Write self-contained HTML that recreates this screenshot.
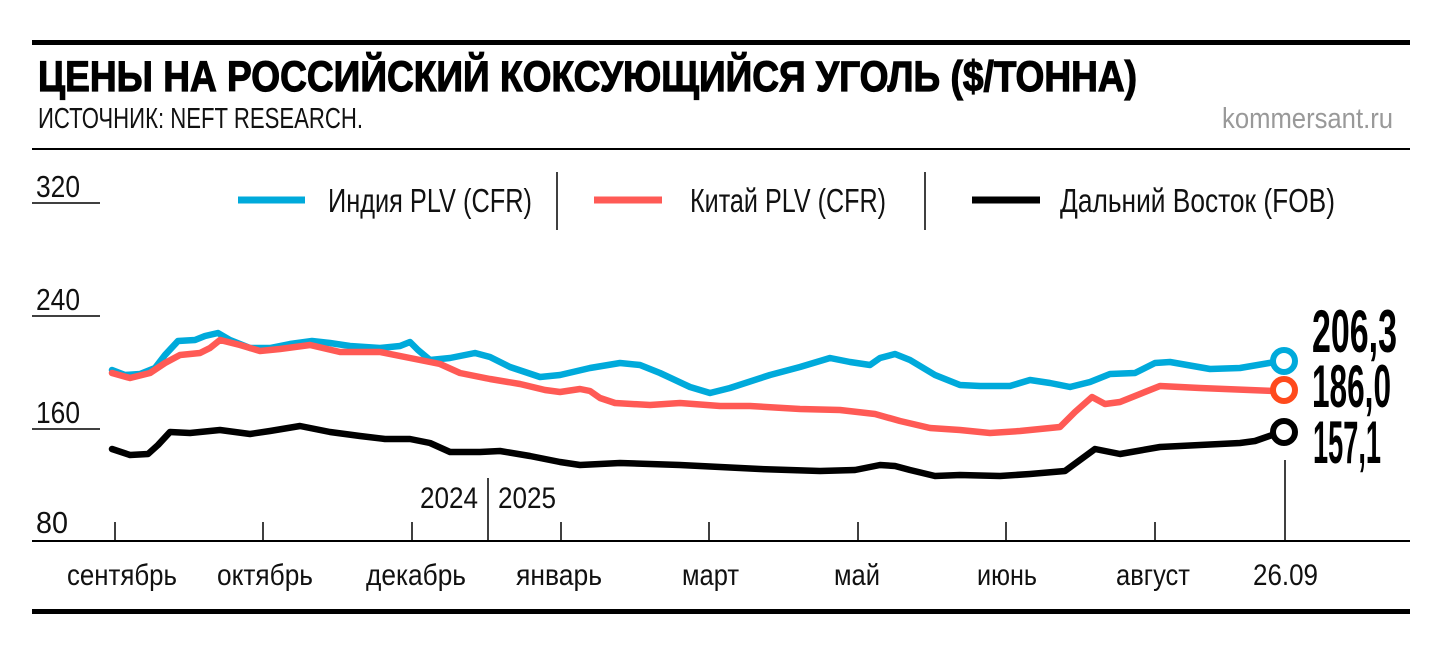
<!DOCTYPE html>
<html><head><meta charset="utf-8"><style>html,body{margin:0;padding:0;background:#fff}svg{display:block}</style></head><body>
<svg width="1440" height="648" viewBox="0 0 1440 648" xmlns="http://www.w3.org/2000/svg" font-family="Liberation Sans, sans-serif">
<rect width="1440" height="648" fill="#fff"/>
<rect x="32" y="40" width="1378" height="5" fill="#000"/>
<text x="38" y="91" font-size="43" font-weight="bold" stroke="#000" stroke-width="1.2" textLength="1099" lengthAdjust="spacingAndGlyphs">ЦЕНЫ НА РОССИЙСКИЙ КОКСУЮЩИЙСЯ УГОЛЬ ($/ТОННА)</text>
<text x="38" y="128" font-size="29" textLength="325" lengthAdjust="spacingAndGlyphs" fill="#111">ИСТОЧНИК: NEFT RESEARCH.</text>
<text x="1222" y="128" font-size="29" textLength="171" lengthAdjust="spacingAndGlyphs" fill="#999">kommersant.ru</text>
<rect x="32" y="148" width="1378" height="2" fill="#000"/>
<g font-size="31" fill="#111">
<text x="36" y="197" textLength="44" lengthAdjust="spacingAndGlyphs">320</text>
<text x="36" y="310" textLength="44" lengthAdjust="spacingAndGlyphs">240</text>
<text x="36" y="423" textLength="44" lengthAdjust="spacingAndGlyphs">160</text>
<text x="36" y="533" textLength="32" lengthAdjust="spacingAndGlyphs">80</text>
</g>
<g stroke="#000" stroke-width="1.5">
<line x1="32" y1="203" x2="100" y2="203"/><line x1="32" y1="316" x2="100" y2="316"/><line x1="32" y1="429" x2="100" y2="429"/>
<line x1="557" y1="172" x2="557" y2="230"/><line x1="925" y1="172" x2="925" y2="230"/>
<line x1="488" y1="478" x2="488" y2="541"/>
<line x1="1285" y1="460" x2="1285" y2="541"/>
<line x1="115" y1="522" x2="115" y2="541"/><line x1="263" y1="522" x2="263" y2="541"/><line x1="412" y1="522" x2="412" y2="541"/><line x1="561" y1="522" x2="561" y2="541"/><line x1="709" y1="522" x2="709" y2="541"/><line x1="858" y1="522" x2="858" y2="541"/><line x1="1006" y1="522" x2="1006" y2="541"/><line x1="1155" y1="522" x2="1155" y2="541"/>
</g>
<rect x="32" y="540" width="1378" height="2" fill="#000"/>
<rect x="32" y="609" width="1378" height="5" fill="#000"/>
<g stroke-width="7" stroke-linecap="butt">
<line x1="238" y1="200" x2="305" y2="200" stroke="#00aadb"/>
<line x1="594" y1="200" x2="662" y2="200" stroke="#ff5a55"/>
<line x1="972" y1="200" x2="1040" y2="200" stroke="#000"/>
</g>
<g font-size="33" fill="#111">
<text x="328" y="212" textLength="204" lengthAdjust="spacingAndGlyphs">Индия PLV (CFR)</text>
<text x="690" y="212" textLength="196" lengthAdjust="spacingAndGlyphs">Китай PLV (CFR)</text>
<text x="1060" y="212" textLength="275" lengthAdjust="spacingAndGlyphs">Дальний Восток (FOB)</text>
</g>
<g font-size="30" fill="#111">
<text x="420" y="508" textLength="58" lengthAdjust="spacingAndGlyphs">2024</text>
<text x="498" y="508" textLength="58" lengthAdjust="spacingAndGlyphs">2025</text>
<text x="67" y="585" textLength="110" lengthAdjust="spacingAndGlyphs">сентябрь</text>
<text x="217" y="585" textLength="96" lengthAdjust="spacingAndGlyphs">октябрь</text>
<text x="366" y="585" textLength="100" lengthAdjust="spacingAndGlyphs">декабрь</text>
<text x="516" y="585" textLength="86" lengthAdjust="spacingAndGlyphs">январь</text>
<text x="682" y="585" textLength="57" lengthAdjust="spacingAndGlyphs">март</text>
<text x="834" y="585" textLength="46" lengthAdjust="spacingAndGlyphs">май</text>
<text x="977" y="585" textLength="60" lengthAdjust="spacingAndGlyphs">июнь</text>
<text x="1116" y="585" textLength="74" lengthAdjust="spacingAndGlyphs">август</text>
<text x="1253" y="585" textLength="65" lengthAdjust="spacingAndGlyphs">26.09</text>
</g>
<g fill="none" stroke-width="6.5" stroke-linejoin="round" stroke-linecap="round">
<polyline stroke="#00aadb" points="112,370 125,375 140,374 155,368 165,355 178,341 195,340 205,336 218,333 230,340 250,348 270,348 290,344 312,341 330,343 350,346 380,348 400,346 410,342 418,350 430,360 450,358 475,353 490,357 510,367 540,377 560,375 590,368 620,363 640,365 660,373 690,387 710,393 730,388 770,375 800,367 830,358 850,362 870,365 880,358 895,354 910,360 935,375 960,385 980,386 1000,386 1010,386 1030,380 1050,383 1070,387 1090,382 1110,374 1135,373 1155,363 1170,362 1210,369 1240,368 1275,362"/>
<polyline stroke="#ff5a55" points="112,373 130,378 150,373 165,363 180,355 200,353 210,348 220,340 240,345 260,351 280,349 310,345 340,352 380,352 420,360 440,364 460,373 490,379 520,384 545,390 560,392 580,389 590,391 600,398 615,403 650,405 680,403 720,406 750,406 800,409 840,410 875,414 900,421 930,428 960,430 990,433 1020,431 1060,427 1075,412 1092,397 1105,404 1120,402 1140,394 1160,386 1200,388 1275,391"/>
<polyline stroke="#000" points="112,449 130,455 148,454 158,445 170,432 190,433 220,430 250,434 270,431 300,426 330,432 360,436 385,439 410,439 430,443 450,452 480,452 500,451 530,456 560,462 580,465 620,463 680,465 760,469 820,471 855,470 880,465 895,466 910,470 935,476 960,475 1000,476 1030,474 1065,471 1080,460 1095,449 1120,454 1160,447 1200,445 1240,443 1255,441 1275,434"/>
</g>
<g fill="#fff" stroke-width="6">
<circle cx="1284" cy="361" r="11" stroke="#00aadb"/>
<circle cx="1284" cy="390" r="11" stroke="#ff4a1c"/>
<circle cx="1284" cy="432" r="11" stroke="#000"/>
</g>
<g font-size="60" font-weight="bold" fill="#000">
<text x="1312" y="352" textLength="85" lengthAdjust="spacingAndGlyphs">206,3</text>
<text x="1312" y="407" textLength="79" lengthAdjust="spacingAndGlyphs">186,0</text>
<text x="1313" y="463" textLength="68" lengthAdjust="spacingAndGlyphs">157,1</text>
</g>
</svg>
</body></html>
